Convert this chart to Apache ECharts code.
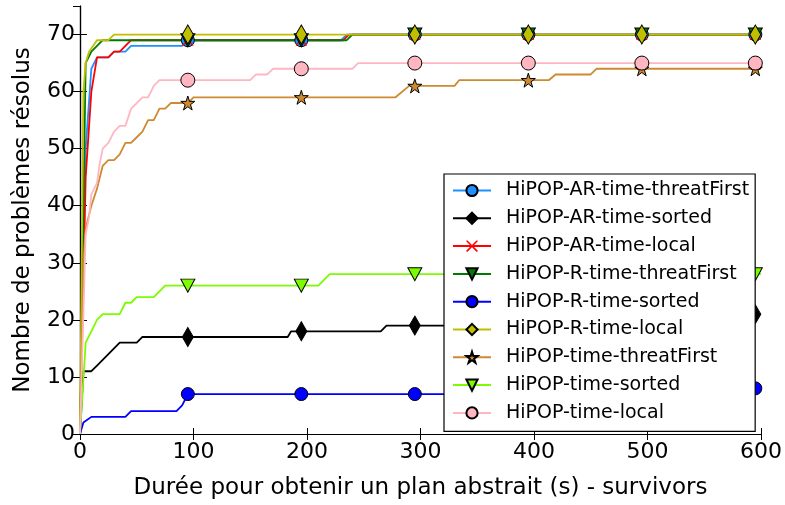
<!DOCTYPE html>
<html>
<head>
<meta charset="utf-8">
<script src="https://cdn.jsdelivr.net/npm/echarts@6/dist/echarts.min.js"></script>
<style>
  html, body { margin: 0; padding: 0; background: #fff; }
  #chart { width: 785px; height: 505px; }
</style>
</head>
<body>
<div id="chart"></div>
<script>
// values, [seconds, problems solved]
const arTimeThreatFirst = [[0,0],[5,50],[10,64],[15,66],[25,66],[30,67],[40,67],[45,68],[90,68],[95,69],[195,69],[230,69],[235,70],[295,70],[395,70],[495,70],[595,70],[600,70]];
const arTimeSorted = [[0,0],[3,11],[10,11],[15,12],[20,13],[25,14],[30,15],[35,16],[50,16],[55,17],[95,17],[183,17],[186,18],[195,18],[265,18],[270,19],[295,19],[395,19],[420,20],[495,20],[520,21],[595,21],[600,21]];
const arTimeLocal = [[0,0],[5,45],[10,60],[15,66],[25,66],[30,67],[35,67],[40,68],[45,69],[95,69],[195,69],[232,69],[237,70],[295,70],[395,70],[495,70],[595,70],[600,70]];
const rTimeThreatFirst = [[0,0],[5,65],[10,67],[15,68],[20,69],[95,69],[195,69],[235,69],[240,70],[295,70],[395,70],[495,70],[595,70],[600,70]];
const rTimeSorted = [[0,0],[3,2],[10,3],[40,3],[45,4],[85,4],[90,5],[95,7],[195,7],[295,7],[395,7],[450,7],[455,8],[495,8],[595,8],[600,8]];
const rTimeLocal = [[0,0],[3,60],[5,65],[8,67],[15,69],[25,69],[30,70],[95,70],[195,70],[295,70],[395,70],[495,70],[595,70],[600,70]];
const timeThreatFirst = [[0,0],[3,30],[5,36],[10,40],[15,43],[20,47],[25,48],[30,48],[35,49],[40,51],[45,51],[50,52],[55,53],[60,55],[65,55],[70,57],[75,57],[80,58],[95,58],[100,59],[195,59],[278,59],[290,61],[295,61],[330,61],[334,62],[395,62],[413,62],[419,63],[450,63],[455,64],[495,64],[595,64],[600,64]];
const timeSorted = [[0,0],[5,16],[10,18],[15,20],[20,21],[35,21],[40,23],[45,23],[50,24],[65,24],[75,26],[95,26],[195,26],[210,26],[220,28],[295,28],[395,28],[495,28],[595,28],[600,28]];
const timeLocal = [[0,0],[5,35],[8,38],[10,42],[15,44],[17,47],[20,50],[25,51],[30,53],[35,54],[40,54],[45,57],[50,58],[55,59],[60,59],[65,61],[70,62],[95,62],[150,62],[155,63],[165,63],[170,64],[195,64],[240,64],[245,65],[295,65],[395,65],[495,65],[595,65],[600,65]];

const markerX = [95, 195, 295, 395, 495, 595];

const thinDiamond = 'path://M5,0 L8,10 L5,20 L2,10 Z';
const star = 'path://M10,0 L12.25,6.91 L19.51,6.91 L13.63,11.18 L15.88,18.09 L10,13.82 L4.12,18.09 L6.37,11.18 L0.49,6.91 L7.75,6.91 Z';
const cross = 'path://M0,0 L1,0 L5,4 L9,0 L10,0 L10,1 L6,5 L10,9 L10,10 L9,10 L5,6 L1,10 L0,10 L0,9 L4,5 L0,1 Z';
const triDown = 'path://M0,0 L10,0 L5,9 Z';

const seriesDefs = [
    {name: 'HiPOP-AR-time-threatFirst', data: arTimeThreatFirst, color: '#1e90ff', symbol: 'circle', size: 13},
    {name: 'HiPOP-AR-time-sorted', data: arTimeSorted, color: '#000000', symbol: thinDiamond, size: [11, 19]},
    {name: 'HiPOP-AR-time-local', data: arTimeLocal, color: '#ff0000', symbol: cross, size: 11, noEdge: true},
    {name: 'HiPOP-R-time-threatFirst', data: rTimeThreatFirst, color: '#007a00', symbol: triDown, size: [14, 13]},
    {name: 'HiPOP-R-time-sorted', data: rTimeSorted, color: '#0000ff', symbol: 'circle', size: 13},
    {name: 'HiPOP-R-time-local', data: rTimeLocal, color: '#bfbf00', symbol: thinDiamond, size: [11, 19]},
    {name: 'HiPOP-time-threatFirst', data: timeThreatFirst, color: '#cd8a30', symbol: star, size: 14},
    {name: 'HiPOP-time-sorted', data: timeSorted, color: '#7cfc00', symbol: triDown, size: [14, 13]},
    {name: 'HiPOP-time-local', data: timeLocal, color: '#ffb6c1', symbol: 'circle', size: 14}
];

const font = 'DejaVu Sans';

const series = seriesDefs.map(function (d) {
    return {
        name: d.name,
        type: 'line',
        data: d.data.map(function (p) {
            if (markerX.indexOf(p[0]) >= 0) return {value: p};
            return {value: p, symbol: 'none'};
        }),
        symbol: d.symbol,
        symbolSize: d.size,
        showSymbol: true,
        showAllSymbol: true,
        lineStyle: {color: d.color, width: 1.8},
        itemStyle: {
            color: d.color,
            borderColor: d.noEdge ? d.color : '#000',
            borderWidth: d.noEdge ? 0 : 1
        },
        emphasis: {disabled: true},
        clip: true
    };
});

const chart = echarts.init(document.getElementById('chart'));
chart.setOption({
    animation: false,
    backgroundColor: '#fff',
    grid: {left: 80, right: 23, top: 6, bottom: 68},
    legend: {
        orient: 'vertical',
        left: 444,
        top: 174,
        padding: [7, 6, 9, 8],
        itemWidth: 38,
        itemHeight: 14,
        itemGap: 8.8,
        backgroundColor: '#fff',
        borderColor: '#000',
        borderWidth: 1.2,
        textStyle: {fontFamily: font, fontSize: 19, color: '#000', lineHeight: 19, padding: [0, 0, 0, 10]},
        data: seriesDefs.map(function (d) { return d.name; })
    },
    xAxis: [{
        type: 'value', min: 0, max: 600, interval: 100,
        name: 'Durée pour obtenir un plan abstrait (s) - survivors',
        nameLocation: 'middle', nameGap: 43,
        nameTextStyle: {fontFamily: font, fontSize: 23, color: '#000'},
        axisLine: {lineStyle: {color: '#000', width: 1.2}},
        axisTick: {inside: true, length: 6, lineStyle: {color: '#000'}},
        axisLabel: {fontFamily: font, fontSize: 22, color: '#000', margin: 7},
        splitLine: {show: false}
    }, {
        type: 'value', min: 0, max: 600, interval: 100, position: 'top',
        axisLine: {show: true, lineStyle: {color: '#000', width: 1.2}},
        axisTick: {inside: true, length: 6, lineStyle: {color: '#000'}},
        axisLabel: {show: false},
        splitLine: {show: false}
    }],
    yAxis: [{
        type: 'value', min: 0, max: 75, interval: 10,
        name: 'Nombre de problèmes résolus',
        nameLocation: 'middle', nameGap: 45,
        nameTextStyle: {fontFamily: font, fontSize: 23, color: '#000'},
        axisLine: {show: true, lineStyle: {color: '#000', width: 1.2}},
        axisTick: {inside: true, length: 7, lineStyle: {color: '#000'}},
        axisLabel: {fontFamily: font, fontSize: 22, color: '#000', margin: 5, showMaxLabel: false},
        splitLine: {show: false}
    }, {
        type: 'value', min: 0, max: 75, interval: 10, position: 'right',
        axisLine: {show: true, lineStyle: {color: '#000', width: 1.2}},
        axisTick: {inside: true, length: 7, lineStyle: {color: '#000'}},
        axisLabel: {show: false},
        splitLine: {show: false}
    }],
    series: series
});
</script>
</body>
</html>
